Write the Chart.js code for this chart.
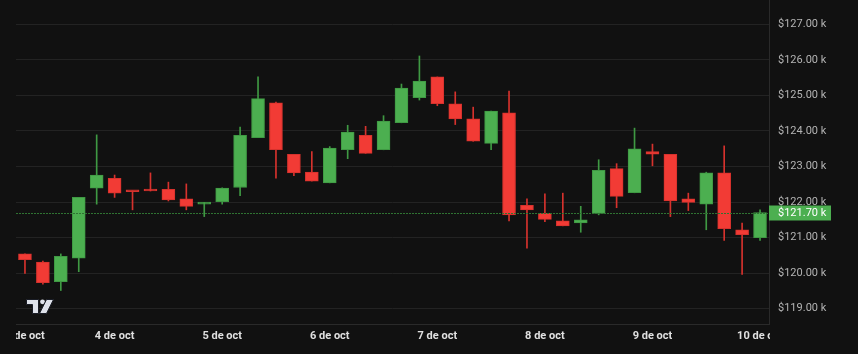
<!DOCTYPE html>
<html>
<head>
<meta charset="utf-8">
<script src="https://cdn.jsdelivr.net/npm/chart.js@4.4.1/dist/chart.umd.min.js"></script>
<style>
  html, body { margin: 0; padding: 0; background: #111111; }
  #wrap { width: 858px; height: 354px; }
</style>
</head>
<body>
<div id="wrap"><canvas id="chart"></canvas></div>
<script>
// 4h candles, 3 oct 04:00 -> 10 oct 00:00 (values in $k)
const times = [
  '3 oct 04:00', '3 oct 08:00', '3 oct 12:00', '3 oct 16:00', '3 oct 20:00',
  '4 oct 00:00', '4 oct 04:00', '4 oct 08:00', '4 oct 12:00', '4 oct 16:00', '4 oct 20:00',
  '5 oct 00:00', '5 oct 04:00', '5 oct 08:00', '5 oct 12:00', '5 oct 16:00', '5 oct 20:00',
  '6 oct 00:00', '6 oct 04:00', '6 oct 08:00', '6 oct 12:00', '6 oct 16:00', '6 oct 20:00',
  '7 oct 00:00', '7 oct 04:00', '7 oct 08:00', '7 oct 12:00', '7 oct 16:00', '7 oct 20:00',
  '8 oct 00:00', '8 oct 04:00', '8 oct 08:00', '8 oct 12:00', '8 oct 16:00', '8 oct 20:00',
  '9 oct 00:00', '9 oct 04:00', '9 oct 08:00', '9 oct 12:00', '9 oct 16:00', '9 oct 20:00',
  '10 oct 00:00'
];
const opens  = [120.54, 120.31, 119.76, 120.42, 122.39, 122.67, 122.31, 122.36, 122.36, 122.09,
                121.94, 122.01, 122.41, 123.81, 124.79, 123.34, 122.84, 122.54, 123.47, 123.88,
                123.47, 124.23, 124.94, 125.52, 124.76, 124.34, 123.65, 124.51, 121.91, 121.68,
                121.47, 121.41, 121.68, 122.94, 122.26, 123.42, 123.34, 122.09, 121.94, 122.82,
                121.22, 121.00];
const highs  = [120.54, 120.34, 120.54, 122.13, 123.89, 122.76, 122.31, 122.82, 122.56, 122.51,
                121.99, 122.40, 124.11, 125.52, 124.81, 123.34, 123.42, 123.56, 124.16, 124.13,
                124.43, 125.32, 126.11, 125.52, 125.10, 124.67, 124.56, 125.12, 122.09, 122.23,
                122.25, 121.88, 123.19, 123.08, 124.08, 123.63, 123.34, 122.25, 122.84, 123.58,
                121.41, 121.78];
const lows   = [119.99, 119.69, 119.51, 120.04, 121.94, 122.13, 121.78, 122.31, 122.03, 121.78,
                121.59, 121.94, 122.18, 123.81, 122.67, 122.74, 122.59, 122.54, 123.22, 123.37,
                123.47, 124.23, 124.87, 124.71, 124.18, 123.71, 123.47, 121.47, 120.70, 121.45,
                121.33, 121.15, 121.64, 121.84, 122.26, 123.02, 121.59, 121.76, 121.22, 120.92,
                119.96, 120.92];
const closes = [120.38, 119.73, 120.47, 122.13, 122.76, 122.25, 122.29, 122.31, 122.06, 121.88,
                121.99, 122.39, 123.88, 124.91, 123.47, 122.82, 122.59, 123.52, 123.97, 123.37,
                124.28, 125.21, 125.40, 124.77, 124.34, 123.71, 124.56, 121.64, 121.78, 121.51,
                121.33, 121.50, 122.89, 122.16, 123.50, 123.35, 122.03, 121.99, 122.82, 121.25,
                121.08, 121.70];
const dayLabels = ['3 de oct', '4 de oct', '5 de oct', '6 de oct', '7 de oct', '8 de oct', '9 de oct', '10 de oct'];
const dayTickIndex = [0, 5, 11, 17, 23, 29, 35, 41];
const yTicks = [119, 120, 121, 122, 123, 124, 125, 126, 127];

const UP = '#4caf50', DOWN = '#f23b35';
const UP_EDGE = '#3f9943', DOWN_EDGE = '#d6322d';
const BG = '#111111';
const lastPrice = closes[closes.length - 1];

const isUp = i => closes[i] >= opens[i];
const fmt = v => '$' + v.toFixed(2) + ' k';

// price line + price tag on the right axis
const priceLinePlugin = {
  id: 'priceLine',
  afterDatasetsDraw(chart) {
    const { ctx, chartArea, scales: { y } } = chart;
    const py = Math.round(y.getPixelForValue(lastPrice)) + 0.5;
    ctx.save();
    ctx.strokeStyle = '#2f7332';
    ctx.lineWidth = 1;
    ctx.setLineDash([2, 1]);
    ctx.beginPath();
    ctx.moveTo(chartArea.left, py);
    ctx.lineTo(chartArea.right, py);
    ctx.stroke();
    ctx.restore();
  },
  afterDraw(chart) {
    const { ctx, chartArea, scales: { y } } = chart;
    const py = y.getPixelForValue(lastPrice);
    ctx.save();
    // date labels are clipped to the plot width
    ctx.fillStyle = BG;
    ctx.fillRect(0, chartArea.bottom + 1, chartArea.left, 40);
    ctx.fillRect(chartArea.right + 1, chartArea.bottom + 1, 100, 40);

    ctx.fillStyle = UP;
    ctx.fillRect(chartArea.right, Math.round(py) - 7.5, 62, 15);
    ctx.fillStyle = '#ffffff';
    ctx.font = '11px Roboto';
    ctx.textBaseline = 'middle';
    ctx.fillText(fmt(lastPrice), chartArea.right + 9, py + 0.5);

    // watermark logo
    ctx.fillStyle = '#dfe2ea';
    ctx.strokeStyle = '#1a1d26';
    ctx.lineWidth = 1;
    ctx.beginPath();
    ctx.moveTo(26.5, 299.5); ctx.lineTo(38.5, 299.5); ctx.lineTo(38.5, 313.5);
    ctx.lineTo(32.5, 313.5); ctx.lineTo(32.5, 304.5); ctx.lineTo(26.5, 304.5);
    ctx.closePath();
    ctx.fill(); ctx.stroke();
    ctx.beginPath();
    ctx.arc(42.5, 301.8, 2.4, 0, Math.PI * 2);
    ctx.fill();
    ctx.beginPath();
    ctx.moveTo(46.5, 299.5); ctx.lineTo(53.5, 299.5); ctx.lineTo(46.5, 313.5); ctx.lineTo(39.5, 313.5);
    ctx.closePath();
    ctx.fill(); ctx.stroke();
    ctx.restore();
  }
};

new Chart(document.getElementById('chart'), {
  type: 'bar',
  data: {
    labels: times,
    datasets: [
      {
        label: 'body',
        data: opens.map((o, i) => [o, closes[i]]),
        backgroundColor: opens.map((o, i) => isUp(i) ? UP : DOWN),
        borderColor: opens.map((o, i) => isUp(i) ? UP_EDGE : DOWN_EDGE),
        borderWidth: 1,
        borderSkipped: false,
        barThickness: 13,
        minBarLength: 2,
        grouped: false
      },
      {
        label: 'wick',
        data: lows.map((l, i) => [l, highs[i]]),
        backgroundColor: opens.map((o, i) => isUp(i) ? UP_EDGE : DOWN_EDGE),
        borderWidth: 0,
        barThickness: 1,
        grouped: false
      }
    ]
  },
  options: {
    responsive: true,
    maintainAspectRatio: false,
    animation: false,
    layout: { padding: { left: 16, top: 0, right: 0, bottom: 0 } },
    plugins: { legend: { display: false }, tooltip: { enabled: false } },
    scales: {
      x: {
        offset: true,
        grid: { display: false, drawTicks: false },
        border: { display: true, color: '#2a2a2a' },
        ticks: {
          autoSkip: false,
          maxRotation: 0,
          padding: 6,
          color: '#e0e0e0',
          font: { family: 'Roboto', size: 11, weight: 'bold' },
          callback: (v, i) => {
            const k = dayTickIndex.indexOf(i);
            return k >= 0 ? dayLabels[k] : '';
          }
        },
        afterFit: s => { s.height = 30; s.paddingLeft = 0; s.paddingRight = 0; }
      },
      y: {
        position: 'right',
        min: 118.568,
        max: 127.685,
        grid: { color: '#232323', drawTicks: false },
        border: { display: true, color: '#2a2a2a' },
        afterBuildTicks: s => { s.ticks = yTicks.map(v => ({ value: v })); },
        ticks: {
          padding: 9,
          color: '#b4b4b4',
          font: { family: 'Roboto', size: 11 },
          callback: v => fmt(v)
        },
        afterFit: s => { s.width = 89; s.paddingTop = 0; s.paddingBottom = 0; }
      }
    }
  },
  plugins: [priceLinePlugin]
});
</script>
</body>
</html>
